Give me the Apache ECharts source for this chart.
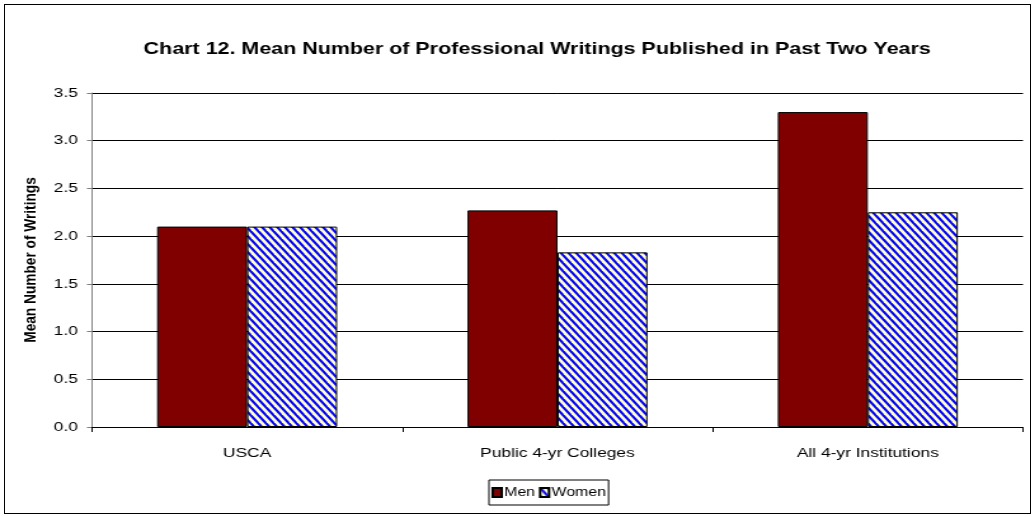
<!DOCTYPE html>
<html>
<head>
<meta charset="utf-8">
<script src="https://cdn.jsdelivr.net/npm/echarts@6/dist/echarts.min.js"></script>
<style>
  html, body { margin: 0; padding: 0; background: #fff; overflow: hidden; }
  #frame { position: absolute; left: 4px; top: 4px; width: 1027px; height: 510px; border: 1px solid #000; box-sizing: border-box; }
  /* The chart is laid out on a narrower canvas and widened to the page width */
  #chart { position: absolute; left: 0; top: 0; width: 815px; height: 517px; transform: scaleX(1.27); transform-origin: 0 0; }
</style>
</head>
<body>
<div id="frame"></div>
<div id="chart"></div>
<script>
// Mean number of professional writings published in the past two years
const categories = ['USCA', 'Public 4-yr Colleges', 'All 4-yr Institutions'];
const menValues = [2.1, 2.27, 3.3];
const womenValues = [2.1, 1.83, 2.25];
const yTicks = ['0.0', '0.5', '1.0', '1.5', '2.0', '2.5', '3.0', '3.5'];

// Diagonal blue-on-cream hatch used for the Women bars
function makeHatch() {
  const c = document.createElement('canvas');
  const w = 6, h = 8;
  c.width = w; c.height = h;
  const g = c.getContext('2d');
  g.fillStyle = '#FFFFCC';
  g.fillRect(0, 0, w, h);
  g.strokeStyle = '#0000FF';
  g.lineWidth = 2.1;
  for (let k = -1; k <= 1; k++) {
    g.beginPath();
    g.moveTo(w * k - 3, -4);
    g.lineTo(w * k + 9, 12);
    g.stroke();
  }
  return c;
}
const hatch = { image: makeHatch(), repeat: 'repeat' };

const font = '"Liberation Sans", Arial, sans-serif';
const chart = echarts.init(document.getElementById('chart'), null, { renderer: 'canvas' });
chart.setOption({
  animation: false,
  textStyle: { fontFamily: font },
  title: {
    text: 'Chart 12. Mean Number of Professional Writings Published in Past Two Years',
    left: 418, top: 36, textAlign: 'center',
    textStyle: { fontFamily: font, fontSize: 16.9, fontWeight: 'bold', color: '#000' }
  },
  legend: {
    data: ['Men', 'Women'],
    left: 385, top: 480,
    itemWidth: 7, itemHeight: 9, itemGap: 3,
    icon: 'rect',
    padding: [6, 2, 6, 2],
    borderColor: '#000', borderWidth: 1,
    textStyle: { fontFamily: font, fontSize: 12.5, color: '#000', padding: [0, 0, 0, -3] }
  },
  grid: { left: 72.4, right: 9.5, top: 93, bottom: 90, containLabel: false },
  xAxis: {
    type: 'category',
    data: categories,
    axisLine: { lineStyle: { color: '#000', width: 1 } },
    axisTick: { show: true, alignWithLabel: false, length: 5, lineStyle: { color: '#000' } },
    axisLabel: { fontFamily: font, fontSize: 13.7, color: '#000', margin: 19 }
  },
  yAxis: {
    type: 'value',
    min: 0, max: 3.5, interval: 0.5,
    name: 'Mean Number of Writings',
    nameLocation: 'middle', nameGap: 39,
    nameTextStyle: { fontFamily: font, fontSize: 13.7, fontWeight: 'bold', color: '#000' },
    axisLine: { show: true, lineStyle: { color: '#808080' } },
    axisTick: { show: true, length: 4, lineStyle: { color: '#808080' } },
    axisLabel: {
      fontFamily: font, fontSize: 13.7, color: '#000', margin: 11,
      formatter: v => yTicks[Math.round(v / 0.5)]
    },
    splitLine: { show: true, lineStyle: { color: '#000', width: 1 } }
  },
  series: [
    {
      name: 'Men', type: 'bar', data: menValues,
      barGap: '0%', barCategoryGap: '42%',
      itemStyle: { color: '#800000', borderColor: '#000', borderWidth: 1 }
    },
    {
      name: 'Women', type: 'bar', data: womenValues,
      itemStyle: { color: hatch, borderColor: '#000', borderWidth: 1 }
    }
  ]
});
</script>
</body>
</html>
